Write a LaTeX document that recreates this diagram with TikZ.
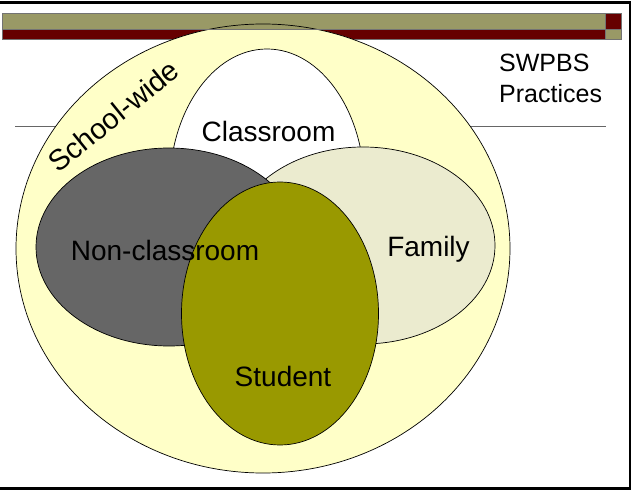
\documentclass[tikz,border=0pt]{standalone}
\usepackage{fontspec}
\setmainfont{Liberation Sans}
\usepackage{xcolor}
\usetikzlibrary{shapes.geometric}

\definecolor{barolive}{HTML}{999966}
\definecolor{barred}{HTML}{660000}
\definecolor{schoolyellow}{HTML}{FFFFC8}
\definecolor{nonclassgray}{HTML}{666666}
\definecolor{familybeige}{HTML}{EBEBCF}
\definecolor{studentolive}{HTML}{999900}

\begin{document}
\begin{tikzpicture}[
  x=1pt, y=-1pt,
  setshape/.style={ellipse, draw=black, line width=0.7pt, inner sep=0pt},
  setlabel/.style={font=\fontsize{28}{32}\selectfont, anchor=base, inner sep=0pt},
  barbox/.style={draw=black!55, line width=0.6pt}
]
\useasboundingbox (0,0) rectangle (633,492);

%% --- Title rule ---
\draw[black!60, line width=1pt] (15,126.5) -- (606,126.5);

%% --- Header bars (red row first, olive row goes over the big set) ---
\filldraw[barbox, fill=barred]  (2,29) rectangle (605,39);
\filldraw[barbox, fill=barred]  (605,13) rectangle (621,29);
\filldraw[barbox, fill=barolive] (605,29) rectangle (621,39);

%% --- Sets ---
\node[setshape, fill=schoolyellow, minimum width=494pt, minimum height=449pt]
  (school) at (263,248.5) {};
\filldraw[barbox, fill=barolive] (2,13) rectangle (605,29);
\begin{scope}
  \clip (2,13) rectangle (605,29);
  \draw[line width=0.7pt] (school.center) ellipse [x radius=247, y radius=224.5];
\end{scope}

\node[setshape, fill=white, minimum width=195pt, minimum height=278pt]
  (classroom) at (267,188) {};
\node[setshape, fill=familybeige, minimum width=264pt, minimum height=197pt]
  (family) at (363,245.5) {};
\node[setshape, fill=nonclassgray, minimum width=266pt, minimum height=198pt]
  (nonclass) at (169,247) {};
\node[setshape, fill=studentolive, minimum width=197pt, minimum height=263pt]
  (student) at (280,313.5) {};

%% --- Labels ---
\node[setlabel, rotate=39, font=\fontsize{29}{33}\selectfont]
  (schoollbl) at (120,124) {School-wide};
\node[setlabel] (classroomlbl) at (268.5,142) {Classroom};
\node[setlabel] (nonclasslbl)  at (165,261)   {Non-classroom};
\node[setlabel] (familylbl)    at (428.5,257) {Family};
\node[setlabel] (studentlbl)   at (283,387)   {Student};
\node[font=\fontsize{25}{31}\selectfont, align=left, anchor=base west, inner sep=0pt]
  (swpbslbl) at (499,103) {SWPBS\\Practices};

%% --- Slide frame ---
\draw[line width=2.5pt] (0,2.5) -- (630,2.5) -- (630,488.5) -- (0,488.5);

\end{tikzpicture}
\end{document}
